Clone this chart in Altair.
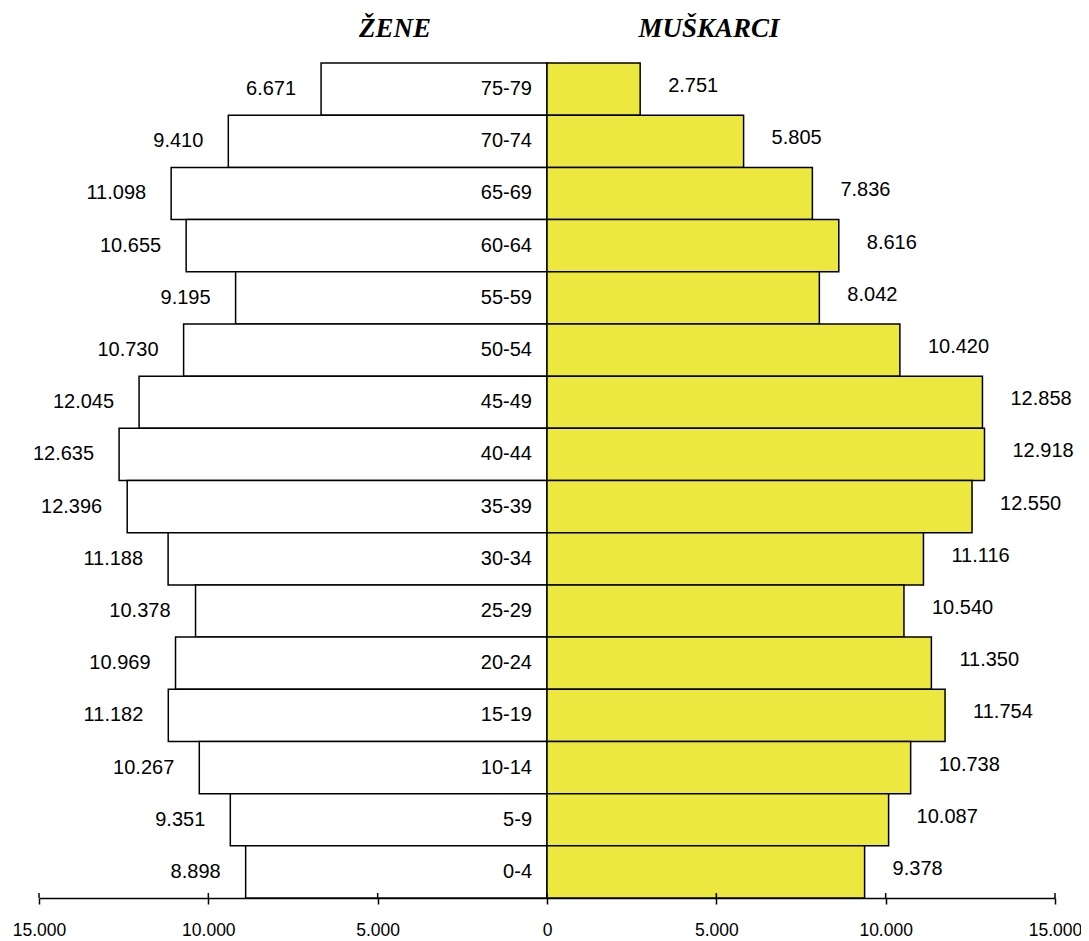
import altair as alt
import pandas as pd

ages = ["75-79", "70-74", "65-69", "60-64", "55-59", "50-54", "45-49", "40-44",
        "35-39", "30-34", "25-29", "20-24", "15-19", "10-14", "5-9", "0-4"]
zene = [6671, 9410, 11098, 10655, 9195, 10730, 12045, 12635,
        12396, 11188, 10378, 10969, 11182, 10267, 9351, 8898]
muskarci = [2751, 5805, 7836, 8616, 8042, 10420, 12858, 12918,
            12550, 11116, 10540, 11350, 11754, 10738, 10087, 9378]
tick_values = [-15000, -10000, -5000, 0, 5000, 10000, 15000]


def fmt(v):
    return f"{v:,}".replace(",", ".")


df = pd.DataFrame({
    "age": ages,
    "zene": zene,
    "muskarci": muskarci,
})
df["zene_neg"] = -df["zene"]
df["zene_lbl"] = df["zene"].map(fmt)
df["musk_lbl"] = df["muskarci"].map(fmt)
df["zero"] = 0

W, H = 1016, 835
FONT = "Liberation Sans"
FS = 20
YELLOW = "#ECE840"

xscale = alt.Scale(domain=[-15000, 15000], nice=False, zero=False)
yenc = alt.Y("age:N", sort=ages, axis=None,
             scale=alt.Scale(paddingInner=0, paddingOuter=0))

base = alt.Chart(df)

xaxis = alt.Axis(
    values=tick_values,
    labelExpr="replace(format(abs(datum.value), ','), ',', '.')",
    grid=False, domainColor="black", domainWidth=1.5,
    tickColor="black", tickWidth=1.5, tickSize=6,
    labelFont=FONT, labelFontSize=17.5, labelColor="black",
    labelPadding=17, title=None, labelFlush=False,
)

female = base.mark_bar(color="white", stroke="black", strokeWidth=1.5).encode(
    x=alt.X("zene_neg:Q", scale=xscale, axis=xaxis),
    x2="zero:Q",
    y=yenc,
)
male = base.mark_bar(color=YELLOW, stroke="black", strokeWidth=1.5).encode(
    x=alt.X("zero:Q", scale=xscale),
    x2="muskarci:Q",
    y=yenc,
)

f_lbl = base.mark_text(align="right", baseline="middle", dx=-25,
                       font=FONT, fontSize=FS, color="black").encode(
    x=alt.X("zene_neg:Q", scale=xscale), y=yenc, text="zene_lbl:N")
m_lbl = base.mark_text(align="left", baseline="middle", dx=28, dy=-3,
                       font=FONT, fontSize=FS, color="black").encode(
    x=alt.X("muskarci:Q", scale=xscale), y=yenc, text="musk_lbl:N")
age_lbl = base.mark_text(align="right", baseline="middle", dx=-15,
                         font=FONT, fontSize=FS, color="black").encode(
    x=alt.X("zero:Q", scale=xscale), y=yenc, text="age:N")

ticks_df = pd.DataFrame({"t": tick_values})
ticks_up = alt.Chart(ticks_df).mark_rule(color="black", strokeWidth=1.5).encode(
    x=alt.X("t:Q", scale=xscale),
    y=alt.value(H - 5), y2=alt.value(H),
)

titles_df = pd.DataFrame({"label": ["ŽENE", "MUŠKARCI"], "pos": ["f", "m"]})
title_f = alt.Chart(titles_df).transform_filter("datum.pos == 'f'").mark_text(
    font="Liberation Serif", fontSize=27, fontWeight="bold", fontStyle="italic",
    align="center", baseline="middle", color="black").encode(
    x=alt.value(356), y=alt.value(-34), text="label:N")
title_m = alt.Chart(titles_df).transform_filter("datum.pos == 'm'").mark_text(
    font="Liberation Serif", fontSize=27, fontWeight="bold", fontStyle="italic",
    align="center", baseline="middle", color="black").encode(
    x=alt.value(670), y=alt.value(-34), text="label:N")

chart = alt.layer(female, male, ticks_up, f_lbl, m_lbl, age_lbl, title_f, title_m).properties(
    width=W, height=H,
    autosize=alt.AutoSizeParams(type="none"),
    padding={"left": 31, "top": 55, "right": 26, "bottom": 46},
    background="white",
).configure_view(stroke=None)

chart.save("out.html", embed_options={"renderer": "svg", "actions": False})
